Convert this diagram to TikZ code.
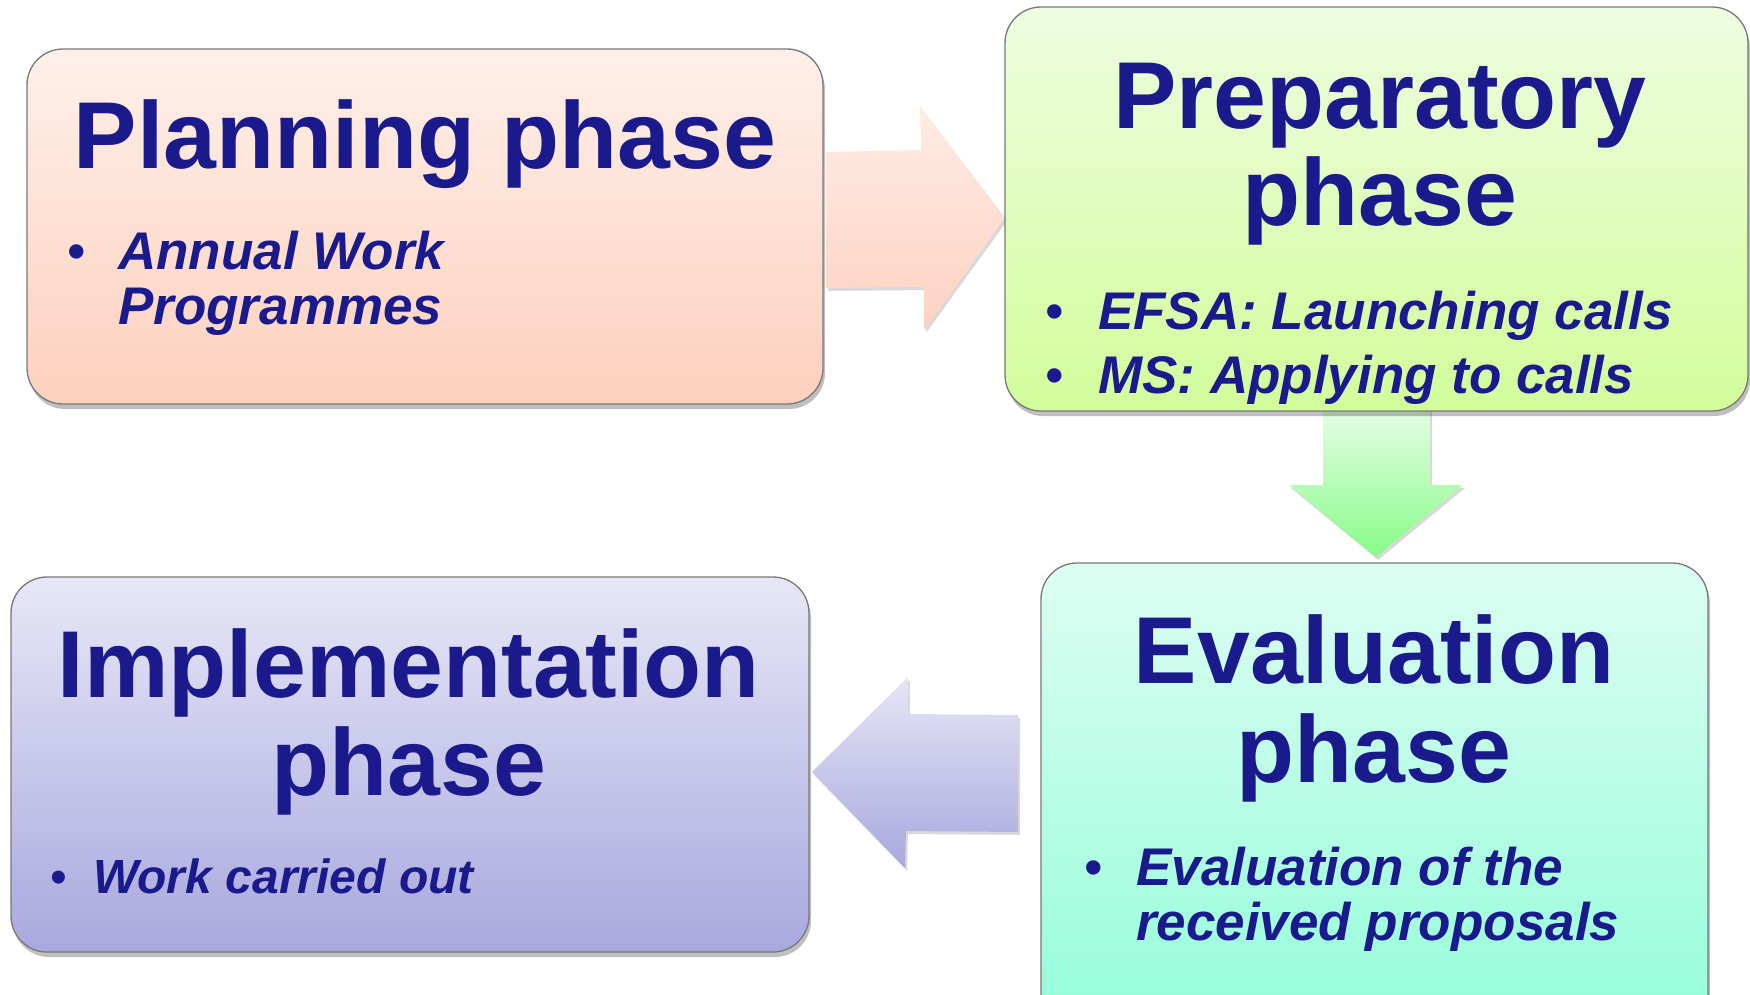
\documentclass[tikz,border=0pt]{standalone}
\usepackage{fontspec}
\setmainfont{Liberation Sans}
\usetikzlibrary{shadows}
\definecolor{navy}{RGB}{26,26,140}
\definecolor{planT}{RGB}{254,240,233}
\definecolor{planB}{RGB}{253,208,190}
\definecolor{prepT}{RGB}{238,253,224}
\definecolor{prepB}{RGB}{210,253,155}
\definecolor{evalT}{RGB}{221,253,243}
\definecolor{evalB}{RGB}{146,253,216}
\definecolor{implT}{RGB}{231,231,247}
\definecolor{implB}{RGB}{168,168,222}
\definecolor{arrRT}{RGB}{254,236,228}
\definecolor{arrRB}{RGB}{253,210,194}
\definecolor{arrDT}{RGB}{229,253,229}
\definecolor{arrDB}{RGB}{136,252,136}
\definecolor{arrLT}{RGB}{230,230,246}
\definecolor{arrLB}{RGB}{168,168,222}
\definecolor{edge}{RGB}{120,120,120}
\tikzset{
  phasebox/.style={draw=edge, line width=1.3pt, rounded corners=36pt, inner sep=0pt, outer sep=0pt,
    drop shadow={shadow xshift=2pt, shadow yshift=-5pt, opacity=0.25, fill=black}},
  blockarrow/.style={draw=none, drop shadow={shadow xshift=2pt, shadow yshift=-3pt, opacity=0.15, fill=black}},
  titletext/.style={text=navy, font=\bfseries\fontsize{95}{95}\selectfont, anchor=base, inner sep=0pt},
  itemtext/.style={text=navy, font=\bfseries\itshape\fontsize{53}{53}\selectfont, anchor=base west, inner sep=0pt},
  smallitemtext/.style={text=navy, font=\bfseries\itshape\fontsize{48}{48}\selectfont, anchor=base west, inner sep=0pt},
  bulletdot/.style={text=navy, font=\fontsize{53}{53}\selectfont, anchor=base, inner sep=0pt},
  smallbulletdot/.style={text=navy, font=\fontsize{48}{48}\selectfont, anchor=base, inner sep=0pt}
}
\begin{document}
\begin{tikzpicture}[x=1pt,y=-1pt]
\clip (0,0) rectangle (1750,994);
\fill[white] (0,0) rectangle (1750,994);

% block arrows
\path[blockarrow, top color=arrRT, bottom color=arrRB]
  (826,152) -- (921,150) -- (920,106) -- (1005,218) -- (924,330) -- (924,287) -- (826,288) -- cycle;
\path[blockarrow, top color=arrDT, bottom color=arrDB]
  (1323,408) -- (1430,408) -- (1430,485) -- (1463,485) -- (1376,557) -- (1289,485) -- (1323,485) -- cycle;
\path[blockarrow, top color=arrLT, bottom color=arrLB]
  (1018,715) -- (1018,832) -- (906,831) -- (905,868) -- (812,772) -- (908,677) -- (908,714) -- cycle;

% boxes
\node[phasebox, top color=planT, bottom color=planB, minimum width=796pt, minimum height=355pt] (plan) at (425,226.5) {};
\node[phasebox, top color=prepT, bottom color=prepB, minimum width=743pt, minimum height=404pt] (prep) at (1376.5,209) {};
\node[phasebox, top color=evalT, bottom color=evalB, minimum width=667pt, minimum height=477pt] (eval) at (1374.5,801.5) {};
\node[phasebox, top color=implT, bottom color=implB, minimum width=798pt, minimum height=375pt] (impl) at (410,764.5) {};

% titles
\node[titletext] (planT1) at (425,168) {Planning phase};
\node[titletext] (prepT1) at (1380,128) {Preparatory};
\node[titletext] (prepT2) at (1380,225) {phase};
\node[titletext] (evalT1) at (1374,683) {Evaluation};
\node[titletext] (evalT2) at (1374,782) {phase};
\node[titletext] (implT1) at (409,697) {Implementation};
\node[titletext] (implT2) at (409,795) {phase};

% bullets
\node[bulletdot] (planB1) at (77,269) {•};
\node[itemtext] (planI1) at (118,269) {Annual Work};
\node[itemtext] (planI2) at (118,324) {Programmes};

\node[bulletdot] (prepB1) at (1055,329) {•};
\node[itemtext] (prepI1) at (1098,329) {EFSA: Launching calls};
\node[bulletdot] (prepB2) at (1055,393) {•};
\node[itemtext] (prepI2) at (1098,393) {MS: Applying to calls};

\node[bulletdot] (evalB1) at (1094,885) {•};
\node[itemtext] (evalI1) at (1136,885) {Evaluation of the};
\node[itemtext] (evalI2) at (1136,940) {received proposals};

\node[smallbulletdot] (implB1) at (59,893) {•};
\node[smallitemtext] (implI1) at (93,893) {Work carried out};
\end{tikzpicture}
\end{document}
